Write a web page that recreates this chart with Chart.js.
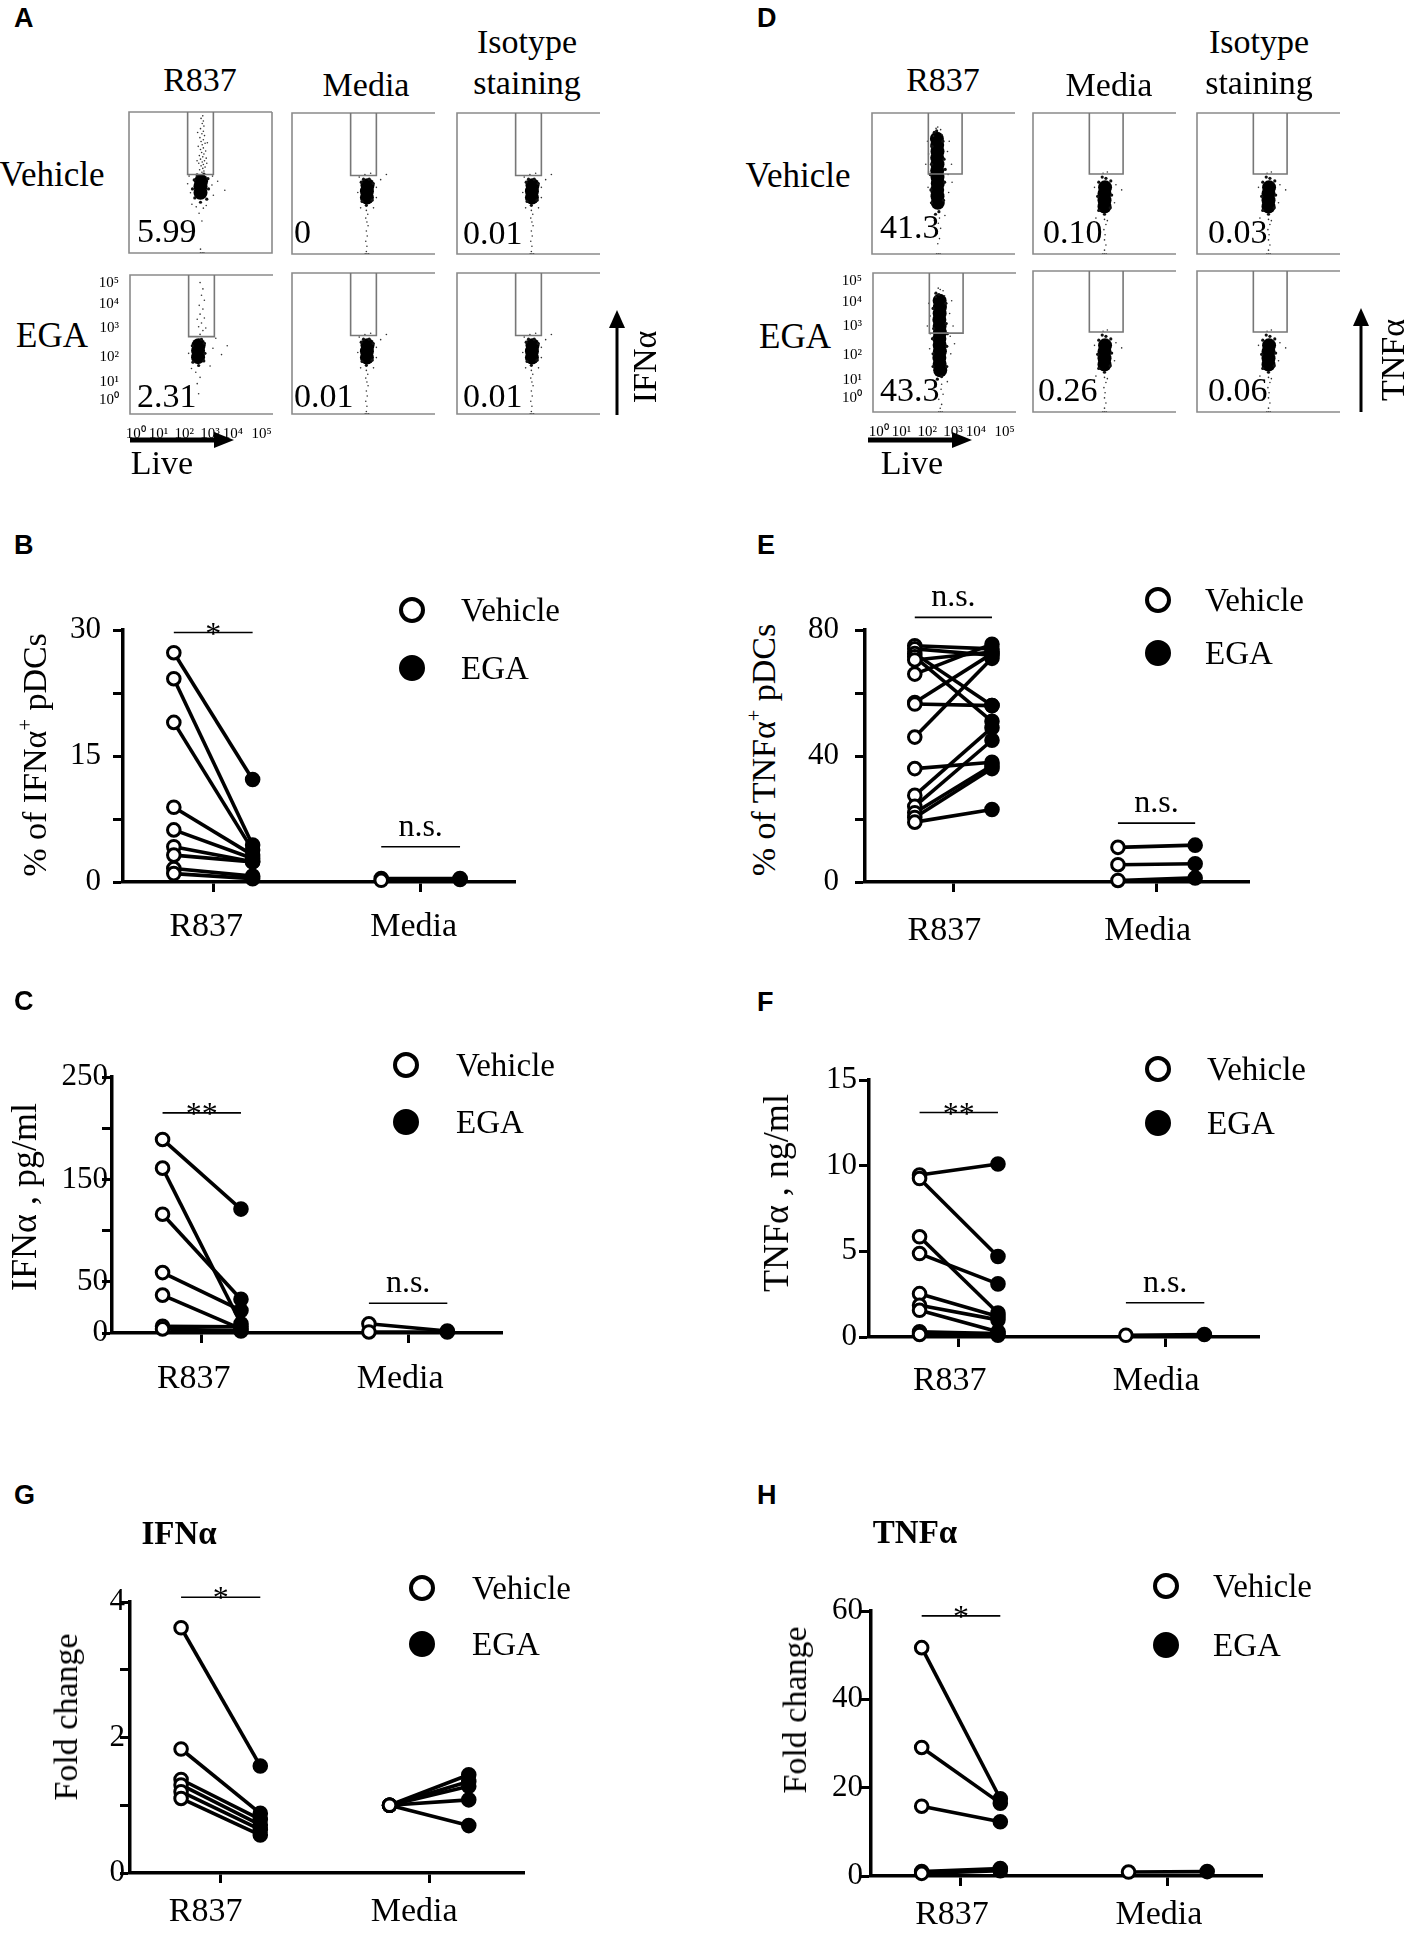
<!DOCTYPE html>
<html>
<head>
<meta charset="utf-8">
<script src="https://cdn.jsdelivr.net/npm/chart.js@4.4.1/dist/chart.umd.min.js"></script>
<style>
  body { margin: 0; width: 1408px; height: 1934px; position: relative; overflow: hidden; background: #fff; color: #000;
         font-family: "Liberation Serif", "Times New Roman", serif; }
  canvas { position: absolute; }
  .tx { position: absolute; white-space: nowrap; line-height: 1; }
  .tx sup { font-size: 0.6em; vertical-align: 0.7em; line-height: 0; }
  .dot { position: absolute; border-radius: 50%; box-sizing: border-box; }
  svg { position: absolute; left: 0; top: 0; }
</style>
</head>
<body>
<svg width="1408" height="1934">
  <line x1="130" y1="440" x2="216" y2="440" stroke="#000" stroke-width="5"/>
  <polygon points="214,432 234,440 214,448" fill="#000"/>
  <line x1="868" y1="440" x2="954" y2="440" stroke="#000" stroke-width="5"/>
  <polygon points="952,432 972,440 952,448" fill="#000"/>
  <line x1="617" y1="415" x2="617" y2="326" stroke="#000" stroke-width="3"/>
  <polygon points="609,328 617,310 625,328" fill="#000"/>
  <line x1="1361" y1="412" x2="1361" y2="324" stroke="#000" stroke-width="3"/>
  <polygon points="1353,326 1361,308 1369,326" fill="#000"/>
</svg>
<script>
// ---------- data ----------
const groups = ['R837', 'Media'];
const legendNames = ['Vehicle', 'EGA'];

// B: % of IFNa+ pDCs
const bVehR837 = [27.3, 24.2, 19.0, 8.9, 6.2, 4.2, 3.2, 1.6, 1.0];
const bEgaR837 = [12.2, 4.4, 3.8, 3.2, 2.8, 2.4, 2.4, 0.7, 0.4];
const bVehMedia = [0.4, 0.2];
const bEgaMedia = [0.4, 0.3];

// E: % of TNFa+ pDCs
const eVehR837 = [75, 74, 72.5, 71.5, 70.5, 66, 57, 56.5, 46, 36, 27.5, 24, 22, 20.5, 19];
const eEgaR837 = [74, 72, 56, 51, 73, 75.5, 72.5, 56, 71, 38, 49, 45, 37, 36, 23];
const eVehMedia = [11, 5.5, 0.5];
const eEgaMedia = [11.7, 5.8, 1.3];

// C: IFNa pg/ml
const cVehR837 = [189, 161, 116, 59, 37, 6.5, 4];
const cEgaR837 = [121, 9, 33, 22, 4, 6, 2];
const cVehMedia = [9, 1];
const cEgaMedia = [2, 1];

// F: TNFa ng/ml
const fVehR837 = [9.45, 9.25, 5.85, 4.87, 2.53, 1.85, 1.56, 0.3, 0.15];
const fEgaR837 = [10.1, 4.7, 1.4, 3.1, 1.2, 1.0, 0.3, 0.2, 0.1];
const fVehMedia = [0.1];
const fEgaMedia = [0.15];

// G: IFNa fold change
const gVehR837 = [3.62, 1.83, 1.38, 1.30, 1.20, 1.10];
const gEgaR837 = [1.58, 0.88, 0.79, 0.71, 0.64, 0.56];
const gVehMedia = [1, 1, 1, 1, 1];
const gEgaMedia = [1.45, 1.35, 1.28, 1.08, 0.70];

// H: TNFa fold change
const hVehR837 = [51.7, 29.1, 15.8, 1.0, 0.6];
const hEgaR837 = [17.5, 16.5, 12.3, 1.7, 1.2];
const hVehMedia = [0.9];
const hEgaMedia = [1.0];

// flow plots, log10 units; gates [xFrom, xTo, yBottom]
const flowTop = 5.2;
const gateIfn = [2.05, 2.95, 2.76];
const gateTnf = [1.97, 3.15, 2.82];
const flowXTicks = [0.2, 1.0, 1.9, 2.8, 3.6, 4.6];
const flowYTicks = [0.25, 0.95, 1.95, 3.1, 4.05, 4.9];
const flowTickText = ['10⁰', '10¹', '10²', '10³', '10⁴', '10⁵'];

const ifnVehCore = [[2.5, 2.05], [2.5, 2.3], [2.52, 2.5]];
const ifnVehHalo = [[2.28, 2.55], [2.76, 2.6], [2.3, 1.85], [2.72, 1.8], [2.5, 1.68], [2.62, 2.78], [2.38, 2.75], [2.78, 2.2], [2.22, 2.2]];
const ifnVehDots = [[2.55, 2.85], [2.62, 2.9], [2.47, 2.95], [2.58, 3.0], [2.66, 3.05], [2.52, 3.1], [2.6, 3.15], [2.44, 3.2],
  [2.56, 3.25], [2.64, 3.3], [2.5, 3.36], [2.7, 3.4], [2.58, 3.45], [2.46, 3.5], [2.62, 3.56], [2.54, 3.62], [2.68, 3.68],
  [2.5, 3.74], [2.6, 3.8], [2.42, 3.86], [2.56, 3.92], [2.66, 3.98], [2.52, 4.05], [2.6, 4.12], [2.48, 4.2], [2.64, 4.28],
  [2.55, 4.35], [2.6, 4.45], [2.5, 4.55], [2.62, 4.65], [2.56, 4.75], [2.6, 4.85], [2.52, 4.95], [2.58, 5.05], [2.72, 3.2],
  [2.38, 3.3], [2.74, 4.0], [2.4, 4.4], [2.15, 2.05], [2.9, 2.35], [2.95, 1.95], [2.2, 1.6], [2.6, 1.45], [2.45, 1.25],
  [2.55, 0.95], [3.35, 2.15], [2.1, 2.7], [2.92, 2.7], [2.5, -0.15], [2.7, 1.55], [2.35, 1.5], [3.1, 2.5], [2.05, 2.4],
  [2.5, -0.3], [2.56, -0.3], [2.62, -0.3]];

const ifnEgaCore = [[2.38, 1.95], [2.38, 2.2], [2.4, 2.42]];
const ifnEgaHalo = [[2.18, 2.4], [2.6, 2.5], [2.2, 1.75], [2.58, 1.8], [2.4, 1.62], [2.5, 2.65], [2.62, 2.1]];
const ifnEgaDots = [[2.45, 2.85], [2.55, 3.0], [2.4, 3.15], [2.5, 3.3], [2.6, 3.5], [2.45, 3.65], [2.55, 3.85], [2.42, 4.0],
  [2.6, 4.2], [2.5, 4.4], [2.55, 4.65], [2.45, 4.9], [2.65, 3.1], [2.35, 3.45], [2.9, 2.3], [3.2, 2.05], [3.4, 2.4],
  [2.05, 2.1], [2.3, 1.35], [2.45, 1.15], [2.35, 0.9], [2.4, 0.5], [2.8, 1.6], [3.0, 2.7], [2.15, 1.5]];

const ifnCtrlCore = [[2.62, 1.9], [2.62, 2.15], [2.64, 2.38]];
const ifnCtrlHalo = [[2.42, 2.5], [2.84, 2.45], [2.45, 1.75], [2.8, 1.8], [2.6, 1.6], [2.7, 2.62], [2.5, 2.62]];
const ifnCtrlDots = [[2.6, 1.4], [2.65, 1.25], [2.58, 1.1], [2.62, 0.95], [2.66, 0.8], [2.6, 0.6], [2.63, 0.4], [2.58, 0.2],
  [2.62, 0.0], [2.6, -0.2], [2.95, 2.3], [3.1, 2.6], [2.3, 2.1], [2.35, 2.7], [2.95, 1.9], [3.3, 2.8], [2.55, 2.8],
  [2.75, 2.85], [2.4, 1.5], [2.85, 1.5], [2.56, -0.3], [2.62, -0.3], [2.68, -0.3]];

const tnfVehCore = [[2.3, 1.7], [2.29, 1.95], [2.28, 2.2], [2.3, 2.45], [2.29, 2.7], [2.28, 2.95], [2.29, 3.2],
  [2.28, 3.45], [2.29, 3.7], [2.28, 3.95], [2.27, 4.2]];
const tnfVehHalo = [[2.06, 2.2], [2.54, 2.5], [2.08, 3.2], [2.52, 3.4], [2.1, 3.9], [2.48, 4.1], [2.26, 4.5], [2.18, 4.45],
  [2.34, 1.35], [2.22, 1.25], [2.5, 1.8], [2.08, 1.7], [2.56, 3.0], [2.04, 2.8]];
const tnfVehDots = [[2.3, 4.65], [2.24, 4.6], [2.4, 4.55], [2.15, 4.3], [2.45, 4.35], [1.98, 3.6], [2.64, 3.7], [1.98, 2.9],
  [2.66, 2.8], [2.68, 2.1], [1.96, 2.3], [2.36, 1.1], [2.32, 0.9], [2.4, 0.7], [2.28, 0.5], [2.36, 0.3], [2.3, 0.1],
  [2.78, 3.2], [2.8, 2.5], [1.88, 3.2], [2.7, 4.1], [1.94, 4.1], [2.55, 1.2], [2.18, 1.0], [2.26, -0.3], [2.32, -0.3], [2.38, -0.3]];

const tnfEgaCore = [[2.35, 1.35], [2.33, 1.6], [2.32, 1.85], [2.34, 2.1], [2.33, 2.35], [2.32, 2.6], [2.34, 2.85],
  [2.33, 3.1], [2.32, 3.35], [2.33, 3.6], [2.34, 3.85], [2.33, 4.1]];
const tnfEgaHalo = [[2.1, 2.0], [2.58, 2.3], [2.12, 3.0], [2.56, 3.2], [2.1, 3.8], [2.55, 4.0], [2.3, 4.35], [2.2, 4.4],
  [2.4, 1.1], [2.25, 1.0], [2.58, 1.5], [2.1, 1.5], [2.6, 2.8], [2.08, 2.6]];
const tnfEgaDots = [[2.35, 4.55], [2.28, 4.6], [2.45, 4.5], [2.2, 4.25], [2.5, 4.3], [2.0, 3.5], [2.68, 3.6], [2.0, 2.8],
  [2.7, 2.7], [2.72, 2.0], [1.98, 2.2], [2.4, 0.8], [2.38, 0.6], [2.45, 0.4], [2.3, 0.2], [2.4, 0.0], [2.35, -0.15],
  [2.8, 3.1], [2.85, 2.4], [1.9, 3.1], [2.75, 4.1], [1.95, 4.0], [2.6, 0.9], [2.2, 0.7], [2.3, -0.3], [2.36, -0.3], [2.42, -0.3]];

const tnfCtrlCore = [[2.5, 1.55], [2.5, 1.8], [2.5, 2.05], [2.52, 2.3]];
const tnfCtrlHalo = [[2.3, 2.5], [2.72, 2.55], [2.3, 1.4], [2.7, 1.5], [2.5, 1.25], [2.55, 2.65], [2.42, 2.7], [2.75, 2.0], [2.26, 1.95]];
const tnfCtrlDots = [[2.5, 1.05], [2.55, 0.85], [2.48, 0.65], [2.52, 0.45], [2.5, 0.25], [2.55, 0.05], [2.5, -0.15],
  [2.45, 2.85], [2.6, 2.9], [2.9, 2.4], [3.1, 2.2], [2.15, 2.3], [2.85, 1.7], [2.2, 1.1], [2.6, 1.0],
  [2.44, -0.3], [2.5, -0.3], [2.56, -0.3]];

// ---------- helpers ----------
const SERIF = '"Liberation Serif", "Times New Roman", serif';
const SANS = '"Liberation Sans", Arial, sans-serif';
Chart.defaults.font.family = SERIF;
Chart.defaults.color = '#000';
const OFF = 0.19, XMIN = 0.565, XMAX = 2.455;

function txt(html, x, y, o = {}) {
  const el = document.createElement('div');
  el.className = 'tx';
  el.innerHTML = html;
  el.style.left = x + 'px';
  el.style.top = y + 'px';
  el.style.fontSize = (o.size || 34) + 'px';
  if (o.bold) el.style.fontWeight = 'bold';
  if (o.sans) el.style.fontFamily = SANS;
  const ax = o.left ? '0' : '-50%';
  el.style.transform = `translate(${ax},-50%)` + (o.rot ? ' rotate(-90deg)' : '');
  document.body.appendChild(el);
}

function addCanvas(left, top, w, h) {
  const cv = document.createElement('canvas');
  cv.width = w; cv.height = h;
  cv.style.left = left + 'px'; cv.style.top = top + 'px';
  cv.style.width = w + 'px'; cv.style.height = h + 'px';
  document.body.appendChild(cv);
  return cv;
}

function legend(cx, vy, ey, tx) {
  [[vy, '#fff'], [ey, '#000']].forEach(([y, fill], i) => {
    const d = document.createElement('div');
    d.className = 'dot';
    Object.assign(d.style, { left: (cx - 13) + 'px', top: (y - 13) + 'px', width: '26px', height: '26px',
      border: '4px solid #000', background: fill });
    document.body.appendChild(d);
    txt(legendNames[i], tx, y, { left: 1, size: 33 });
  });
}

const sigPlugin = {
  id: 'sig',
  afterDatasetsDraw(chart, args, opts) {
    const { ctx, scales: { x, y } } = chart;
    (opts.bars || []).forEach(b => {
      const x0 = x.getPixelForValue(b.g - OFF), x1 = x.getPixelForValue(b.g + OFF), yy = y.getPixelForValue(b.y);
      ctx.save();
      ctx.strokeStyle = '#000'; ctx.lineWidth = 1.6;
      ctx.beginPath(); ctx.moveTo(x0, yy); ctx.lineTo(x1, yy); ctx.stroke();
      ctx.fillStyle = '#000'; ctx.font = '32px ' + SERIF; ctx.textAlign = 'center'; ctx.textBaseline = 'alphabetic';
      const star = b.text.includes('*');
      ctx.fillText(b.text, (x0 + x1) / 2, star ? yy + 11 : yy - 11);
      ctx.restore();
    });
  }
};

const axisGrid = { drawOnChartArea: false, drawTicks: true, tickLength: 10, tickWidth: 3, tickColor: '#000' };
const axisBorder = { display: true, color: '#000', width: 3.5 };

function pairChart(s) {
  const YW = 80, XH = 64, PT = 64, PR = 14;
  const b = s.box;
  const cv = addCanvas(b.left - YW, b.top - PT, b.right - b.left + YW + PR, b.bottom - b.top + PT + XH);
  const pts = (vals, g, off) => vals.map(v => ({ x: g + off, y: v }));
  const pairLines = (veh, ega, g) => veh.map((v, i) => ({
    data: [{ x: g - OFF, y: v }, { x: g + OFF, y: ega[i] }],
    showLine: true, borderColor: '#000', borderWidth: 3.6, pointRadius: 0, clip: false
  }));
  const mark = { pointRadius: 6.3, pointBorderWidth: 3, pointBorderColor: '#000', clip: false };
  const datasets = [
    { label: legendNames[0], data: [...pts(s.veh[0], 1, -OFF), ...pts(s.veh[1], 2, -OFF)], pointBackgroundColor: '#fff', ...mark },
    { label: legendNames[1], data: [...pts(s.ega[0], 1, OFF), ...pts(s.ega[1], 2, OFF)], pointBackgroundColor: '#000', ...mark },
    ...pairLines(s.veh[0], s.ega[0], 1),
    ...pairLines(s.veh[1], s.ega[1], 2)
  ];
  new Chart(cv, {
    type: 'scatter',
    data: { datasets },
    options: {
      responsive: false, animation: false, events: [],
      layout: { padding: { top: PT, right: PR, left: 0, bottom: 0 } },
      plugins: { legend: { display: false }, tooltip: { enabled: false }, sig: { bars: s.sig } },
      scales: {
        x: {
          type: 'linear', min: XMIN, max: XMAX,
          afterBuildTicks: sc => { sc.ticks = [{ value: 1 }, { value: 2 }]; },
          afterFit: sc => { sc.height = XH; },
          ticks: { callback: v => groups[v - 1], font: { family: SERIF, size: 34 }, color: '#000', padding: s.xPad,
                   labelOffset: s.xShift, autoSkip: false, maxRotation: 0 },
          grid: axisGrid, border: axisBorder
        },
        y: {
          type: 'linear', min: 0, max: s.yMax,
          afterFit: sc => { sc.width = YW; },
          ticks: { stepSize: s.yStep, callback: v => s.yShown.includes(v) ? String(v) : '',
                   font: { family: SERIF, size: 31 }, color: '#000', padding: s.yPad, autoSkip: false },
          grid: axisGrid, border: axisBorder
        }
      }
    },
    plugins: [sigPlugin]
  });
}

const framePlugin = {
  id: 'frame',
  beforeDatasetsDraw(chart, args, opts) {
    const { ctx, chartArea: a } = chart;
    ctx.save();
    ctx.strokeStyle = '#8a8a8a'; ctx.lineWidth = 1.6;
    ctx.beginPath();
    ctx.moveTo(a.right, a.top); ctx.lineTo(a.left, a.top); ctx.lineTo(a.left, a.bottom); ctx.lineTo(a.right, a.bottom);
    if (opts.closed) ctx.lineTo(a.right, a.top);
    ctx.stroke();
    ctx.restore();
  }
};

function flowChart(p) {
  const W = 143, H = 141, P = 10;
  const t = !!p.ticks;
  const YW = t ? 30 : 0, XH = t ? 26 : 0;
  const cv = addCanvas(p.left - (t ? YW : P), p.top - P, W + P + (t ? YW : P), H + P + (t ? XH : P));
  const g = p.gate;
  const dot = (data, r, c) => ({ data, pointRadius: r, pointBorderWidth: 0, pointBackgroundColor: c });
  const tickFont = { family: SERIF, size: 15 };
  new Chart(cv, {
    type: 'scatter',
    data: {
      datasets: [
        { data: [[g[0], flowTop], [g[0], g[2]], [g[1], g[2]], [g[1], flowTop]], showLine: true,
          borderColor: '#777', borderWidth: 1.6, pointRadius: 0, clip: false },
        dot(p.dots, 0.8, '#333'), dot(p.halo, 1.6, '#111'), dot(p.core, 7, '#000')
      ]
    },
    options: {
      responsive: false, animation: false, events: [],
      layout: { padding: { top: P, right: P, left: t ? 0 : P, bottom: t ? 0 : P } },
      plugins: { legend: { display: false }, tooltip: { enabled: false }, frame: { closed: !!p.closed } },
      scales: {
        x: {
          type: 'linear', min: 0, max: 5, display: t,
          afterBuildTicks: sc => { sc.ticks = flowXTicks.map(v => ({ value: v })); },
          afterFit: sc => { if (t) sc.height = XH; },
          ticks: { callback: (v, i) => flowTickText[i], font: tickFont, color: '#000', padding: 3, autoSkip: false, maxRotation: 0 },
          grid: { display: false }, border: { display: false }
        },
        y: {
          type: 'linear', min: -0.3, max: flowTop, display: t,
          afterBuildTicks: sc => { sc.ticks = flowYTicks.map(v => ({ value: v })); },
          afterFit: sc => { if (t) sc.width = YW; },
          ticks: { callback: (v, i) => flowTickText[i], font: tickFont, color: '#000', padding: 3, autoSkip: false },
          grid: { display: false }, border: { display: false }
        }
      }
    },
    plugins: [framePlugin]
  });
}

// ---------- panels A and D ----------
const ifnR837Veh = { core: ifnVehCore, halo: ifnVehHalo, dots: ifnVehDots };
const ifnR837Ega = { core: ifnEgaCore, halo: ifnEgaHalo, dots: ifnEgaDots };
const ifnCtrl = { core: ifnCtrlCore, halo: ifnCtrlHalo, dots: ifnCtrlDots };
const tnfR837Veh = { core: tnfVehCore, halo: tnfVehHalo, dots: tnfVehDots };
const tnfR837Ega = { core: tnfEgaCore, halo: tnfEgaHalo, dots: tnfEgaDots };
const tnfCtrl = { core: tnfCtrlCore, halo: tnfCtrlHalo, dots: tnfCtrlDots };

flowChart({ left: 129, top: 112, gate: gateIfn, closed: true, ...ifnR837Veh });
flowChart({ left: 292, top: 113, gate: gateIfn, ...ifnCtrl });
flowChart({ left: 457, top: 113, gate: gateIfn, ...ifnCtrl });
flowChart({ left: 130, top: 273, gate: gateIfn, ticks: true, ...ifnR837Ega });
flowChart({ left: 292, top: 273, gate: gateIfn, ...ifnCtrl });
flowChart({ left: 457, top: 273, gate: gateIfn, ...ifnCtrl });

flowChart({ left: 872, top: 113, gate: gateTnf, ...tnfR837Veh });
flowChart({ left: 1033, top: 113, gate: gateTnf, ...tnfCtrl });
flowChart({ left: 1197, top: 113, gate: gateTnf, ...tnfCtrl });
flowChart({ left: 873, top: 271, gate: gateTnf, ticks: true, ...tnfR837Ega });
flowChart({ left: 1033, top: 271, gate: gateTnf, ...tnfCtrl });
flowChart({ left: 1197, top: 271, gate: gateTnf, ...tnfCtrl });

// ---------- panels B, C, E, F, G, H ----------
pairChart({ box: { left: 123, right: 515, top: 630, bottom: 882 }, yMax: 30, yStep: 7.5, yShown: [0, 15, 30],
  veh: [bVehR837, bVehMedia], ega: [bEgaR837, bEgaMedia], xPad: 15, yPad: 12, xShift: -7,
  sig: [{ g: 1, y: 29.7, text: '*' }, { g: 2, y: 4.2, text: 'n.s.' }] });
pairChart({ box: { left: 865, right: 1249, top: 630, bottom: 882 }, yMax: 80, yStep: 20, yShown: [0, 40, 80],
  veh: [eVehR837, eVehMedia], ega: [eEgaR837, eEgaMedia], xPad: 19, yPad: 16, xShift: -9,
  sig: [{ g: 1, y: 84, text: 'n.s.' }, { g: 2, y: 18.7, text: 'n.s.' }] });
pairChart({ box: { left: 112, right: 502, top: 1077, bottom: 1333 }, yMax: 250, yStep: 50, yShown: [0, 50, 150, 250],
  veh: [cVehR837, cVehMedia], ega: [cEgaR837, cEgaMedia], xPad: 16, yPad: -6, xShift: -8,
  sig: [{ g: 1, y: 215, text: '**' }, { g: 2, y: 29, text: 'n.s.' }] });
pairChart({ box: { left: 869, right: 1259, top: 1080, bottom: 1337 }, yMax: 15, yStep: 5, yShown: [0, 5, 10, 15],
  veh: [fVehR837, fVehMedia], ega: [fEgaR837, fEgaMedia], xPad: 14, yPad: 2, xShift: -9,
  sig: [{ g: 1, y: 13.1, text: '**' }, { g: 2, y: 2.0, text: 'n.s.' }] });
pairChart({ box: { left: 130, right: 524, top: 1602, bottom: 1873 }, yMax: 4, yStep: 1, yShown: [0, 2, 4],
  veh: [gVehR837, gVehMedia], ega: [gEgaR837, gEgaMedia], xPad: 9, yPad: -5, xShift: -15,
  sig: [{ g: 1, y: 4.07, text: '*' }] });
pairChart({ box: { left: 871, right: 1262, top: 1611, bottom: 1876 }, yMax: 60, yStep: 20, yShown: [0, 20, 40, 60],
  veh: [hVehR837, hVehMedia], ega: [hEgaR837, hEgaMedia], xPad: 9, yPad: -2, xShift: -9,
  sig: [{ g: 1, y: 58.9, text: '*' }] });

// ---------- text ----------
[['A', 14, 18], ['D', 757, 18], ['B', 14, 545], ['E', 757, 545], ['C', 14, 1001], ['F', 757, 1002],
 ['G', 14, 1495], ['H', 757, 1495]].forEach(([l, x, y]) => txt(l, x, y, { sans: 1, bold: 1, size: 27, left: 1 }));

txt('R837', 200, 80); txt('Media', 366, 85); txt('Isotype', 527, 42); txt('staining', 527, 83);
txt('R837', 943, 80); txt('Media', 1109, 85); txt('Isotype', 1259, 42); txt('staining', 1259, 83);
txt('Vehicle', 52, 174, { size: 35 }); txt('EGA', 52, 335, { size: 35 });
txt('Vehicle', 798, 175, { size: 35 }); txt('EGA', 795, 336, { size: 35 });
txt('Live', 162, 463); txt('Live', 912, 463);
txt('IFNα', 645, 367, { rot: 1 }); txt('TNFα', 1393, 360, { rot: 1 });

[['5.99', 137, 231], ['0', 294, 232], ['0.01', 463, 233], ['2.31', 137, 396], ['0.01', 294, 396], ['0.01', 463, 396],
 ['41.3', 880, 227], ['0.10', 1043, 232], ['0.03', 1208, 232], ['43.3', 880, 390], ['0.26', 1038, 390], ['0.06', 1208, 390]]
  .forEach(([s, x, y]) => txt(s, x, y, { size: 34, left: 1 }));

txt('% of IFNα<sup>+</sup> pDCs', 35, 755, { rot: 1 });
txt('% of TNFα<sup>+</sup> pDCs', 764, 750, { rot: 1 });
txt('IFNα , pg/ml', 24, 1197, { rot: 1, size: 36 });
txt('TNFα , ng/ml', 776, 1193, { rot: 1, size: 36 });
txt('Fold change', 66, 1717, { rot: 1 });
txt('Fold change', 795, 1710, { rot: 1 });
txt('IFNα', 179, 1533, { bold: 1, size: 33 });
txt('TNFα', 915, 1532, { bold: 1, size: 33 });

legend(412, 610, 668, 461);
legend(1158, 600, 653, 1205);
legend(406, 1065, 1122, 456);
legend(1158, 1069, 1123, 1207);
legend(422, 1588, 1644, 472);
legend(1166, 1586, 1645, 1213);
</script>
</body>
</html>
